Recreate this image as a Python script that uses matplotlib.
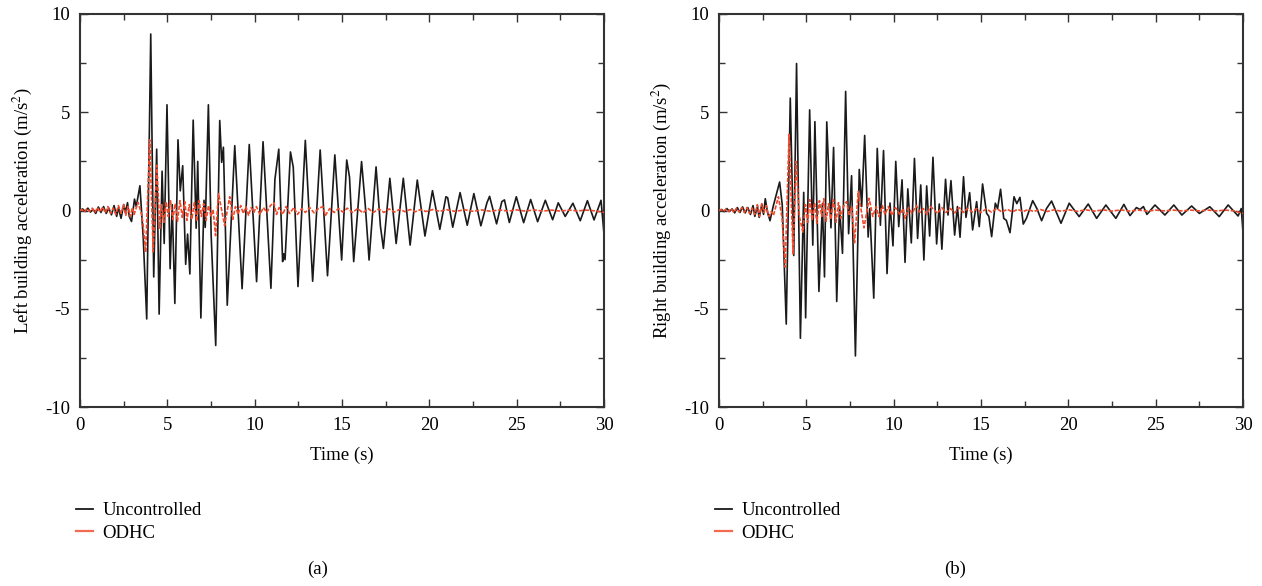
import matplotlib
matplotlib.use("Agg")
from matplotlib import pyplot as plt
from matplotlib.lines import Line2D
from matplotlib.ticker import MultipleLocator

plt.rcParams['font.family'] = ['Liberation Serif', 'DejaVu Serif']
plt.rcParams['axes.unicode_minus'] = False
plt.rcParams['mathtext.fontset'] = 'stix'

# left building, uncontrolled (peaks/troughs)
left_unc_t = [0.0, 0.15, 0.3, 0.45, 0.6, 0.75, 0.9, 1.05, 1.2, 1.35, 1.5, 1.65, 1.8, 1.95, 2.1, 2.2, 2.35,
              2.5, 2.6, 2.72, 2.82, 2.95, 3.05, 3.12, 3.22, 3.43, 3.62, 3.82, 4.05, 4.22, 4.39, 4.53, 4.70,
              4.82, 4.98, 5.16, 5.28, 5.43, 5.61, 5.74, 5.88, 6.05, 6.16, 6.29, 6.48, 6.65, 6.74, 6.92, 7.1,
              7.17, 7.35, 7.51, 7.77, 8.0, 8.11, 8.21, 8.43, 8.86, 9.28, 9.69, 10.11, 10.48, 10.93, 11.16,
              11.38, 11.60, 11.66, 11.74, 12.05, 12.21, 12.48, 12.9, 13.32, 13.75, 14.17, 14.59, 14.98, 15.27,
              15.43, 15.67, 16.12, 16.33, 16.55, 16.95, 17.2, 17.37, 17.74, 18.1, 18.51, 18.9, 19.31, 19.75,
              20.18, 20.6, 20.95, 21.05, 21.34, 21.76, 22.17, 22.55, 22.95, 23.3, 23.45, 23.85, 24.15, 24.3,
              24.58, 24.98, 25.4, 25.8, 26.2, 26.64, 27.06, 27.38, 27.78, 28.22, 28.64, 29.05, 29.43, 29.83,
              30.0]
left_unc_v = [0.0, 0.08, -0.05, 0.12, -0.08, 0.06, -0.15, 0.18, -0.1, 0.2, -0.15, 0.12, -0.22, 0.25, -0.3, 0.15,
              -0.4, 0.3, -0.1, 0.4, -0.3, -0.56, 0.1, 0.58, 0.2, 1.26, -1.4, -5.52, 8.98, -3.38, 3.12, -5.27,
              2.0, -1.68, 5.38, -2.96, 0.3, -4.73, 3.6, 1.0, 2.28, -2.74, -1.2, -3.23, 4.6, -0.9, 2.5, -5.47,
              0.52, -0.86, 5.38, -1.28, -6.87, 4.58, 2.45, 3.22, -4.82, 3.3, -3.98, 3.36, -3.62, 3.5, -3.96,
              1.59, 3.12, -2.6, -2.2, -2.5, 2.98, 2.2, -3.87, 3.57, -3.6, 3.08, -3.32, 2.83, -2.52, 2.57, 1.7,
              -2.6, 2.49, 0.3, -2.52, 2.22, -0.8, -1.93, 1.64, -1.68, 1.64, -1.76, 1.55, -1.3, 1.01, -0.96,
              0.7, 0.65, -0.85, 0.91, -0.75, 0.86, -0.78, 0.4, 0.72, -0.68, 0.45, 0.54, -0.61, 0.7, -0.62,
              0.56, -0.57, 0.52, -0.47, 0.39, -0.3, 0.37, -0.52, 0.5, -0.48, 0.52, -1.2]

# left building, ODHC
left_odhc_t = [0.0, 0.12, 0.25, 0.4, 0.55, 0.7, 0.85, 1.0, 1.15, 1.3, 1.45, 1.6, 1.75, 1.9, 2.05, 2.2, 2.35,
               2.5, 2.62, 2.75, 2.88, 3.0, 3.1, 3.32, 3.5, 3.6, 3.76, 3.99, 4.19, 4.4, 4.57, 4.68, 4.8, 4.93,
               5.05, 5.18, 5.32, 5.45, 5.58, 5.72, 5.86, 6.0, 6.12, 6.26, 6.4, 6.55, 6.68, 6.82, 6.95, 7.08,
               7.22, 7.36, 7.5, 7.62, 7.76, 7.93, 8.28, 8.57, 8.75, 8.9, 9.05, 9.2, 9.35, 9.5, 9.65, 9.8, 9.95,
               10.1, 10.3, 10.5, 10.7, 10.9, 11.1, 11.25, 11.4, 11.6, 11.8, 12.0, 12.25, 12.45, 12.7, 12.9,
               13.15, 13.4, 13.65, 13.9, 14.05, 14.3, 14.55, 14.8, 15.05, 15.3, 15.6, 15.9, 16.2, 16.5, 16.8,
               17.1, 17.4, 17.7, 18.0, 18.3, 18.6, 18.9, 19.2, 19.5, 19.8, 20.2, 20.6, 21.0, 21.5, 22.0, 22.5,
               23.0, 23.5, 24.0, 24.5, 25.0, 25.5, 26.0, 26.5, 27.0, 27.5, 28.0, 28.5, 29.0, 29.5, 30.0]
left_odhc_v = [0.0, 0.05, -0.08, 0.1, -0.05, 0.12, -0.1, 0.15, -0.08, 0.18, -0.12, 0.2, -0.15, 0.12, -0.2, 0.25,
               -0.15, 0.3, -0.25, 0.2, -0.3, 0.15, -0.2, 0.42, -0.1, -0.6, -2.12, 3.6, -2.1, 2.3, -0.9, 0.3,
               -0.6, 0.45, -0.3, 0.5, -0.45, 0.35, -0.55, 0.5, -0.35, 0.45, -0.5, 0.3, -0.45, 0.4, -0.55, 0.5,
               -0.3, 0.35, -0.5, 0.25, -0.3, 0.05, -1.28, 0.86, -0.77, 0.7, -0.45, 0.2, -0.2, 0.25, -0.15, 0.2,
               -0.25, 0.15, -0.1, 0.2, -0.2, 0.15, -0.1, 0.25, 0.4, -0.2, 0.15, -0.2, 0.2, -0.15, 0.15, -0.2,
               0.1, -0.1, 0.15, -0.12, 0.1, 0.2, -0.25, 0.1, -0.1, 0.1, -0.08, 0.12, -0.1, 0.1, -0.12, 0.1,
               -0.1, 0.08, -0.1, 0.08, -0.08, 0.06, -0.06, 0.05, -0.06, 0.05, -0.05, 0.05, -0.04, 0.04, -0.05,
               0.04, -0.04, 0.03, -0.04, 0.03, -0.03, 0.03, -0.03, 0.03, -0.03, 0.02, -0.03, 0.02, -0.02, 0.02,
               -0.02, -0.1]

# right building, uncontrolled
right_unc_t = [0.0, 0.15, 0.3, 0.45, 0.6, 0.75, 0.9, 1.05, 1.2, 1.35, 1.5, 1.65, 1.8, 1.95, 2.05, 2.2, 2.3,
               2.45, 2.55, 2.65, 2.78, 2.92, 3.1, 3.47, 3.62, 3.85, 4.08, 4.28, 4.44, 4.66, 4.85, 4.96, 5.19,
               5.37, 5.49, 5.72, 5.92, 6.04, 6.17, 6.41, 6.56, 6.74, 6.9, 7.07, 7.25, 7.42, 7.59, 7.81, 8.03,
               8.17, 8.34, 8.54, 8.63, 8.86, 9.06, 9.24, 9.42, 9.62, 9.79, 9.96, 10.12, 10.29, 10.48, 10.65,
               10.81, 11.01, 11.19, 11.37, 11.55, 11.73, 11.89, 12.06, 12.25, 12.46, 12.61, 12.76, 12.97, 13.11,
               13.28, 13.49, 13.65, 13.8, 14.0, 14.14, 14.35, 14.52, 14.75, 14.9, 15.09, 15.32, 15.45, 15.61,
               15.82, 15.95, 16.12, 16.3, 16.45, 16.66, 16.89, 17.05, 17.23, 17.42, 17.6, 17.96, 18.2, 18.47,
               18.75, 19.04, 19.58, 20.05, 20.62, 21.14, 21.62, 22.15, 22.72, 23.18, 23.53, 23.9, 24.1, 24.3,
               24.5, 24.96, 25.53, 26.04, 26.5, 27.06, 27.5, 28.1, 28.64, 29.15, 29.72, 29.9, 30.0]
right_unc_v = [0.0, 0.05, -0.06, 0.1, -0.05, 0.08, -0.12, 0.15, -0.1, 0.18, -0.12, 0.15, -0.2, 0.25, -0.3, 0.2,
               -0.35, 0.3, -0.2, 0.6, -0.1, -0.52, 0.2, 1.45, 0.3, -5.78, 5.72, -2.29, 7.48, -6.5, 0.92, -5.46,
               5.12, -1.76, 4.52, -4.12, 0.35, -3.38, 4.51, -0.88, 3.21, -4.63, 0.22, -2.18, 6.06, -1.18, 1.77,
               -7.4, 2.09, 0.2, 3.82, -1.35, 0.1, -4.46, 3.16, -0.75, 3.05, -3.21, 0.38, -1.8, 2.5, -0.82,
               1.56, -2.64, 1.1, -1.65, 2.65, -1.42, 1.3, -2.52, 1.25, -1.3, 2.71, -1.7, 0.33, -1.97, 1.59,
               -0.23, 1.52, -1.25, 0.2, -1.36, 1.72, -0.35, 0.91, -0.99, 0.45, -0.82, 1.35, -0.14, -0.3, -1.33,
               0.37, 0.1, 1.08, -0.4, -0.5, -1.13, 0.7, 0.35, 0.67, -0.69, -0.4, 0.5, 0.1, -0.52, 0.1, 0.48,
               -0.65, 0.37, -0.31, 0.33, -0.4, 0.28, -0.4, 0.31, -0.26, 0.15, 0.05, 0.2, -0.2, 0.28, -0.23,
               0.28, -0.23, 0.23, -0.15, 0.19, -0.31, 0.28, -0.28, 0.1, -1.1]

# right building, ODHC
right_odhc_t = [0.0, 0.12, 0.25, 0.4, 0.55, 0.7, 0.85, 1.0, 1.15, 1.3, 1.45, 1.6, 1.75, 1.9, 2.05, 2.2, 2.32,
                2.45, 2.58, 2.7, 2.85, 3.0, 3.12, 3.4, 3.6, 3.79, 4.01, 4.24, 4.41, 4.6, 4.8, 4.95, 5.08, 5.2,
                5.33, 5.47, 5.6, 5.75, 5.88, 6.0, 6.13, 6.27, 6.4, 6.55, 6.7, 6.84, 6.97, 7.12, 7.3, 7.45, 7.6,
                7.76, 7.97, 8.3, 8.6, 8.8, 9.0, 9.15, 9.35, 9.5, 9.7, 9.9, 10.1, 10.35, 10.55, 10.65, 10.85,
                11.05, 11.3, 11.5, 11.7, 11.9, 12.1, 12.3, 12.5, 12.75, 13.0, 13.25, 13.5, 13.75, 14.0, 14.25,
                14.5, 14.75, 15.0, 15.3, 15.6, 15.9, 16.2, 16.5, 16.8, 17.1, 17.4, 17.7, 18.0, 18.4, 18.8, 19.2,
                19.6, 20.0, 20.5, 21.0, 21.5, 22.0, 22.5, 23.0, 23.5, 24.0, 24.5, 25.0, 25.5, 26.0, 26.5, 27.0,
                27.5, 28.0, 28.5, 29.0, 29.5, 30.0]
right_odhc_v = [0.0, 0.05, -0.06, 0.08, -0.06, 0.1, -0.1, 0.12, -0.08, 0.15, -0.1, 0.15, -0.15, 0.12, -0.2, 0.3,
                -0.3, 0.35, -0.1, 0.25, -0.3, -0.05, -0.25, 0.7, -0.3, -2.88, 3.86, -2.21, 2.5, -0.3, -1.1, 0.3,
                -0.6, 0.55, -0.5, 0.4, -0.65, 0.5, -0.3, 0.6, -0.55, 0.35, -0.45, 0.55, -0.6, 0.4, -0.4, 0.2,
                0.45, -0.2, 0.2, -1.64, 0.97, -0.88, 0.62, -0.3, 0.2, -0.3, 0.25, -0.2, 0.2, -0.25, 0.15, -0.2,
                0.1, -0.4, 0.15, -0.15, 0.25, -0.1, 0.1, -0.2, 0.2, 0.05, -0.15, 0.15, -0.1, 0.1, -0.12, 0.15,
                -0.1, 0.12, -0.08, 0.1, -0.1, 0.08, -0.08, 0.1, -0.08, 0.06, -0.07, 0.06, -0.06, 0.05, -0.05,
                0.05, -0.05, 0.04, -0.04, 0.04, -0.04, 0.03, -0.03, 0.03, -0.03, 0.03, -0.03, 0.02, -0.03, 0.02,
                -0.02, 0.02, -0.02, 0.02, -0.02, 0.02, -0.02, 0.02, -0.02, -0.15]

labels = ["Uncontrolled", "ODHC"]
ylabels = ["Left building acceleration (m/s$^2$)", "Right building acceleration (m/s$^2$)"]
captions = ["(a)", "(b)"]

unc_color = "#1a1a1a"
odhc_color = "#f04a2c"
fs = 13.5

fig = plt.figure(figsize=(12.62, 5.86), dpi=100)
ax_l = fig.add_axes([80 / 1262, 1 - 407 / 586, 524 / 1262, 393 / 586])
ax_r = fig.add_axes([719 / 1262, 1 - 407 / 586, 524 / 1262, 393 / 586])

panels = [
    (ax_l, left_unc_t, left_unc_v, left_odhc_t, left_odhc_v),
    (ax_r, right_unc_t, right_unc_v, right_odhc_t, right_odhc_v),
]

for i, (ax, ut, uv, ot, ov) in enumerate(panels):
    ax.plot(ut, uv, color=unc_color, lw=1.2, zorder=2, solid_joinstyle='round')
    ax.plot(ot, ov, color=odhc_color, lw=1.2, dashes=(2.5, 1.0), zorder=3)

    ax.set_xlim(0, 30)
    ax.set_ylim(-10, 10)
    ax.xaxis.set_major_locator(MultipleLocator(5))
    ax.xaxis.set_minor_locator(MultipleLocator(2.5))
    ax.yaxis.set_major_locator(MultipleLocator(5))
    ax.yaxis.set_minor_locator(MultipleLocator(2.5))
    ax.tick_params(which='both', direction='in', top=True, right=True, labelsize=fs, color='#333333')
    ax.tick_params(which='major', length=6, width=1.0, pad=7)
    ax.tick_params(which='minor', length=4, width=1.0)
    for s in ax.spines.values():
        s.set_linewidth(1.5)
        s.set_color('#333333')

    ax.set_xlabel("Time (s)", fontsize=fs, labelpad=9)
    ax.set_ylabel(ylabels[i], fontsize=fs, labelpad=8)

    handles = [Line2D([], [], color=unc_color, lw=1.3), Line2D([], [], color="#f26a50", lw=1.6)]
    x0 = (76 if i == 0 else 715) / 1262
    fig.legend(handles, labels, loc='upper left', bbox_to_anchor=(x0, 1 - 502 / 586),
               bbox_transform=fig.transFigure, frameon=False, fontsize=fs,
               handlelength=0.9, handletextpad=0.5, labelspacing=0.3, borderaxespad=0, borderpad=0)

    cx = (318 if i == 0 else 955) / 1262
    fig.text(cx, 1 - 569 / 586, captions[i], ha='center', va='center', fontsize=fs)

plt.savefig("out.png", dpi=100)
